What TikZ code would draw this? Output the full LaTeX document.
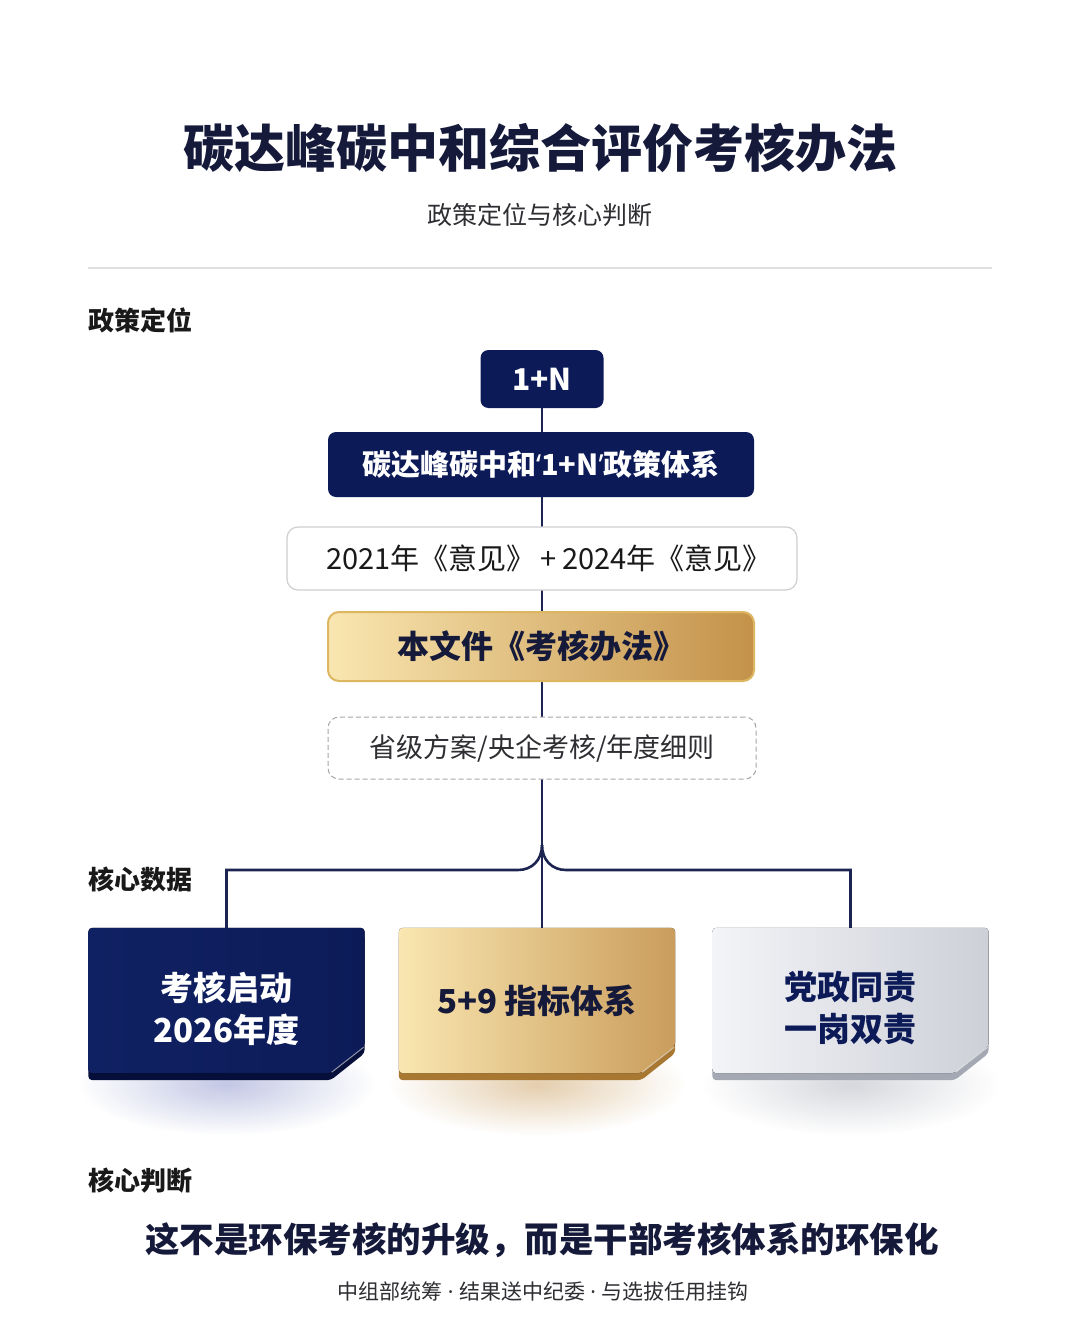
\documentclass[tikz,border=0pt]{standalone}
\usepackage{fontspec}
\setmainfont{Noto Sans CJK SC}
\newfontfamily\latinsans{Noto Sans}
\usetikzlibrary{calc,positioning,backgrounds,fadings}

\definecolor{navy}{HTML}{0C1B58}
\definecolor{navyL}{HTML}{102163}
\definecolor{navyE}{HTML}{060E3A}
\definecolor{navyG}{HTML}{7A84C4}
\definecolor{ink}{HTML}{15193A}
\definecolor{trunkc}{HTML}{1C2452}
\definecolor{goldL}{HTML}{F9E6B0}
\definecolor{goldM}{HTML}{EDCE88}
\definecolor{goldD}{HTML}{C4924A}
\definecolor{goldR}{HTML}{DDB662}
\definecolor{goldE}{HTML}{A87832}
\definecolor{silverL}{HTML}{F3F4F7}
\definecolor{silverD}{HTML}{CDD0D8}
\definecolor{silverE}{HTML}{A3A8B3}
\definecolor{boxline}{HTML}{CFCFD2}
\definecolor{greytxt}{HTML}{2E2E33}

\tikzfading[name=glowfade, inner color=transparent!0, outer color=transparent!100]

\tikzset{
  navybox/.style={fill=navy, rounded corners=8pt, text=white, inner sep=0pt},
  onebox/.style={navybox, minimum width=123pt, minimum height=58pt,
    font=\bfseries\fontsize{30}{36}\selectfont},
  sysbox/.style={navybox, minimum width=426pt, minimum height=65pt,
    font=\bfseries\fontsize{29}{34}\selectfont},
  plainbox/.style={fill=white, draw=boxline, line width=1.2pt, rounded corners=11pt,
    minimum width=510pt, minimum height=63pt, inner sep=0pt, text=black!90,
    font=\fontsize{29}{32}\selectfont},
  goldbox/.style={left color=goldL, middle color=goldM, right color=goldD,
    draw=goldR, line width=2pt, rounded corners=11pt,
    minimum width=426pt, minimum height=69pt, inner sep=0pt, text=ink,
    font=\bfseries\fontsize{32}{36}\selectfont},
  dashbox/.style={fill=white, draw=black!35, line width=1pt, dash pattern=on 5pt off 3pt,
    rounded corners=11pt, minimum width=428pt, minimum height=62pt, inner sep=0pt,
    text=greytxt, font=\fontsize{27}{31}\selectfont},
  sectlabel/.style={anchor=west, inner sep=0pt, text=black!90,
    font=\bfseries\fontsize{26}{30}\selectfont},
  cardbox/.style={minimum width=276pt, minimum height=145pt, inner sep=0pt},
  cardtext/.style={inner sep=0pt, align=center, font=\bfseries\fontsize{33}{42}\selectfont},
  cardnavy/.style={left color=navyL, right color=navy},
  cardgold/.style={left color=goldL, middle color=goldM!85!goldD, right color=goldD!90},
  cardsilver/.style={left color=silverL, middle color=silverL!60!silverD, right color=silverD},
  trunk/.style={draw=trunkc, line width=2.6pt},
}

% card face with cut corner, shifted down by #2
\newcommand{\cardoutline}[2]{($(#1.north west)+(0,#2)$) -- ($(#1.north east)+(0,#2)$)
  -- ($(#1.south east)+(0,#2-27)$) -- ($(#1.south east)+(-34,#2)$)
  -- ($(#1.south west)+(0,#2)$) -- cycle}

\begin{document}
\begin{tikzpicture}[x=1pt, y=-1pt]
\useasboundingbox (0,0) rectangle (1080,1324);
\begin{scope}[on background layer]
  \fill[white] (0,0) rectangle (1080,1324);
\end{scope}

% heading
\node[text=ink, font=\bfseries\fontsize{51}{60}\selectfont] (title) at (540,148) {碳达峰碳中和综合评价考核办法};
\node[text=greytxt, font=\fontsize{25}{29}\selectfont] (subtitle) at (540,215) {政策定位与核心判断};
\draw[black!12, line width=1.5pt] (88,268) -- (992,268);

% policy chain
\node[sectlabel] (labpos) at (88,320) {政策定位};
\node[onebox] (onen) at (542,379) {1+N};
\node[sysbox] (sys) at (541,464.5) {碳达峰碳中和{\latinsans‘}1+N{\latinsans’}政策体系};
\node[plainbox] (yijian) at (542,558.5) {\hspace{14pt}2021年《意见》\hspace{5pt}+\hspace{6pt}2024年《意见》};
\node[goldbox] (banfa) at (541,646.5) {本文件《考核办法》};
\node[dashbox] (detail) at (542,748) {省级方案/央企考核/年度细则};

% core data cards
\node[sectlabel] (labdata) at (88,880) {核心数据};
\foreach \nm/\cx/\dy/\facesty/\rim/\glow/\tcol/\txt in {
    cA/226.5/8/cardnavy/navyE/navyG/white/{考核启动\\2026年度},
    cB/537/0/cardgold/goldE/goldD/ink/{5+9 指标体系},
    cC/850.5/8/cardsilver/silverE/silverE/navy/{党政同责\\一岗双责}}{
  \node[cardbox] (\nm) at (\cx,1000.5) {};
  \node[cardtext, text=\tcol] (\nm-txt) at ($(\nm)+(0,\dy)$) {\txt};
  \begin{scope}[on background layer]
    \fill[\glow, opacity=.45, path fading=glowfade]
      ($(\nm.south west)+(-10,-40)$) rectangle ($(\nm.south east)+(10,62)$);
    \fill[\rim, rounded corners=4pt] \cardoutline{\nm}{7};
    \fill[\facesty, rounded corners=4pt] \cardoutline{\nm}{0};
    \draw[white, opacity=.55, line width=1pt]
      ($(\nm.south east)+(-1,-26)$) -- ($(\nm.south east)+(-33,-1)$);
  \end{scope}
}

% connectors
\begin{scope}[on background layer]
  \draw[trunk] (onen.south) -- (onen.south |- cB.north);
  \coordinate (split) at (onen.south |- 0,845);
  \coordinate (barL) at (518,870);
  \coordinate (barR) at (566,870);
  \draw[trunk] (cA.north) |- (barL) .. controls (532,870) and (542,860) .. (split);
  \draw[trunk] (cC.north) |- (barR) .. controls (552,870) and (542,860) .. (split);
\end{scope}

% core judgement
\node[sectlabel] (labjudge) at (88,1181) {核心判断};
\node[text=ink, font=\bfseries\fontsize{34.5}{42}\selectfont] (verdict) at (542,1240) {这不是环保考核的升级，而是干部考核体系的环保化};
\node[text=greytxt, font=\fontsize{21}{25}\selectfont] (footnote) at (543,1292) {中组部统筹{\latinsans\ ·\ }结果送中纪委{\latinsans\ ·\ }与选拔任用挂钩};
\end{tikzpicture}
\end{document}
